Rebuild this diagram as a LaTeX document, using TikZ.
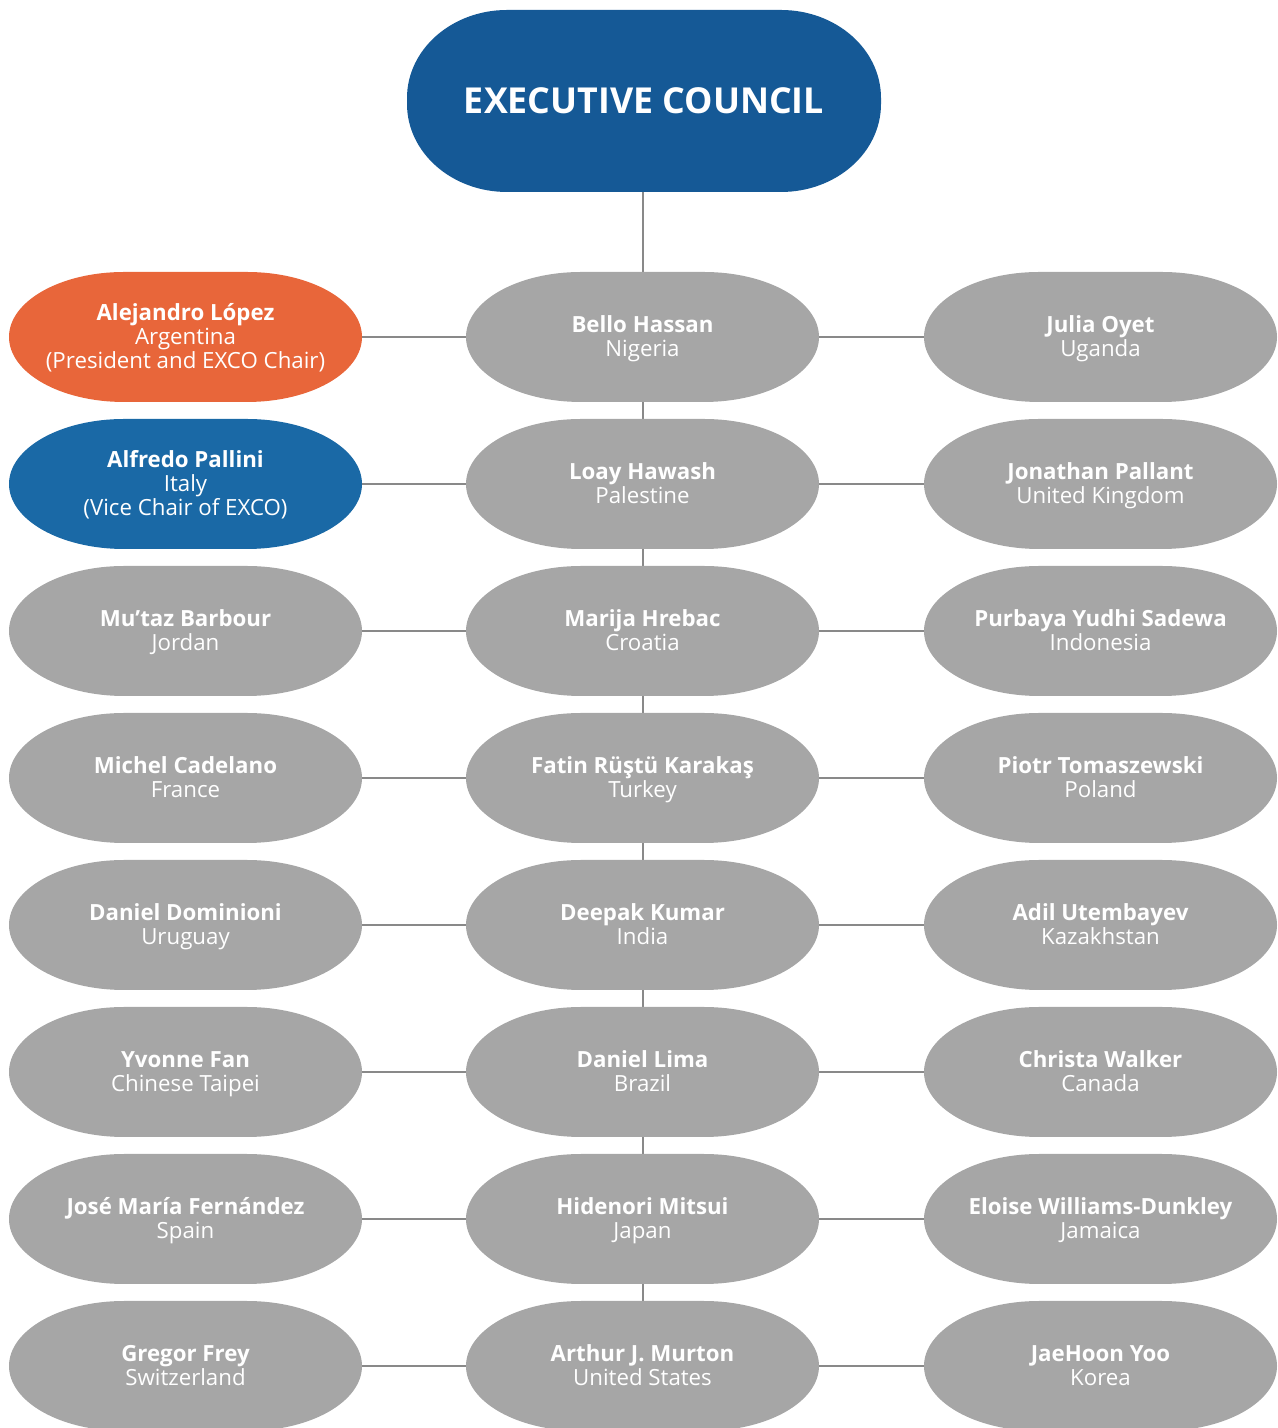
\documentclass[tikz,border=0pt]{standalone}
\usepackage{fontspec}
\setmainfont{Open Sans}
\usetikzlibrary{backgrounds}
\definecolor{execblue}{RGB}{21,89,150}
\definecolor{vblue}{RGB}{26,105,166}
\definecolor{porange}{RGB}{232,102,58}
\definecolor{mgray}{RGB}{166,166,166}
\definecolor{lgray}{RGB}{137,137,137}
\tikzset{
  member/.style={text=white, align=center, inner sep=0pt,
    minimum width=264.75pt, minimum height=97.5pt,
    font=\fontsize{16.7}{18}\selectfont},
  execnode/.style={text=white, align=center, inner sep=0pt,
    minimum width=355.5pt, minimum height=136.5pt,
    font=\fontsize{26.8}{30}\selectfont\bfseries},
  conn/.style={draw=lgray, line width=1.5pt}
}
\newcommand\nm[1]{\rule{0pt}{0.95em}{\bfseries #1}}
\newcommand\ct[1]{#1\rule[-0.26em]{0pt}{0.1em}}
% name, x, y, colour, text
\newcommand\pillnode[5]{%
  \fill[#4] ({#2-61.5},{#3+65}) -- ({#2+61.5},{#3+65})
    arc[start angle=90,end angle=-90,x radius=115,y radius=65]
    -- ({#2-61.5},{#3-65})
    arc[start angle=270,end angle=90,x radius=115,y radius=65] -- cycle;
  \node[member] (#1) at (#2,#3) {#5};
}
\begin{document}
\begin{tikzpicture}[x=0.75pt,y=0.75pt]
\useasboundingbox (0,0) rectangle (1278,1428);
% executive council
\fill[execblue] (507,1418) -- (781,1418)
  arc[start angle=90,end angle=0,x radius=100,y radius=88] -- (881,1324)
  arc[start angle=0,end angle=-90,x radius=100,y radius=88] -- (507,1236)
  arc[start angle=270,end angle=180,x radius=100,y radius=88] -- (407,1330)
  arc[start angle=180,end angle=90,x radius=100,y radius=88] -- cycle;
\node[execnode] (exec) at (644,1327) {EXECUTIVE COUNCIL};
% row 1
\pillnode{l1}{185.5}{1091}{porange}{\nm{Alejandro López}\\Argentina\\\ct{(President and EXCO Chair)}}
\pillnode{m1}{642.5}{1091}{mgray}{\nm{Bello Hassan}\\\ct{Nigeria}}
\pillnode{r1}{1100.5}{1091}{mgray}{\nm{Julia Oyet}\\\ct{Uganda}}
% row 2
\pillnode{l2}{185.5}{944}{vblue}{\nm{Alfredo Pallini}\\Italy\\\ct{(Vice Chair of EXCO)}}
\pillnode{m2}{642.5}{944}{mgray}{\nm{Loay Hawash}\\\ct{Palestine}}
\pillnode{r2}{1100.5}{944}{mgray}{\nm{Jonathan Pallant}\\\ct{United Kingdom}}
% row 3
\pillnode{l3}{185.5}{797}{mgray}{\nm{Mu’taz Barbour}\\\ct{Jordan}}
\pillnode{m3}{642.5}{797}{mgray}{\nm{Marija Hrebac}\\\ct{Croatia}}
\pillnode{r3}{1100.5}{797}{mgray}{\nm{Purbaya Yudhi Sadewa}\\\ct{Indonesia}}
% row 4
\pillnode{l4}{185.5}{650}{mgray}{\nm{Michel Cadelano}\\\ct{France}}
\pillnode{m4}{642.5}{650}{mgray}{\nm{Fatin Rüştü Karakaş}\\\ct{Turkey}}
\pillnode{r4}{1100.5}{650}{mgray}{\nm{Piotr Tomaszewski}\\\ct{Poland}}
% row 5
\pillnode{l5}{185.5}{503}{mgray}{\nm{Daniel Dominioni}\\\ct{Uruguay}}
\pillnode{m5}{642.5}{503}{mgray}{\nm{Deepak Kumar}\\\ct{India}}
\pillnode{r5}{1100.5}{503}{mgray}{\nm{Adil Utembayev}\\\ct{Kazakhstan}}
% row 6
\pillnode{l6}{185.5}{356}{mgray}{\nm{Yvonne Fan}\\\ct{Chinese Taipei}}
\pillnode{m6}{642.5}{356}{mgray}{\nm{Daniel Lima}\\\ct{Brazil}}
\pillnode{r6}{1100.5}{356}{mgray}{\nm{Christa Walker}\\\ct{Canada}}
% row 7
\pillnode{l7}{185.5}{209}{mgray}{\nm{José María Fernández}\\\ct{Spain}}
\pillnode{m7}{642.5}{209}{mgray}{\nm{Hidenori Mitsui}\\\ct{Japan}}
\pillnode{r7}{1100.5}{209}{mgray}{\nm{Eloise Williams-Dunkley}\\\ct{Jamaica}}
% row 8
\pillnode{l8}{185.5}{62}{mgray}{\nm{Gregor Frey}\\\ct{Switzerland}}
\pillnode{m8}{642.5}{62}{mgray}{\nm{Arthur J. Murton}\\\ct{United States}}
\pillnode{r8}{1100.5}{62}{mgray}{\nm{JaeHoon Yoo}\\\ct{Korea}}
% connectors
\begin{pgfonlayer}{background}
\draw[conn] (m1.north |- exec.south) -- (m1.north);
\foreach \a/\b in {1/2,2/3,3/4,4/5,5/6,6/7,7/8}{
  \draw[conn] (m\a) -- (m\b);
}
\foreach \i in {1,...,8}{
  \draw[conn] (l\i) -- (m\i);
  \draw[conn] (m\i) -- (r\i);
}
\end{pgfonlayer}
\end{tikzpicture}
\end{document}
